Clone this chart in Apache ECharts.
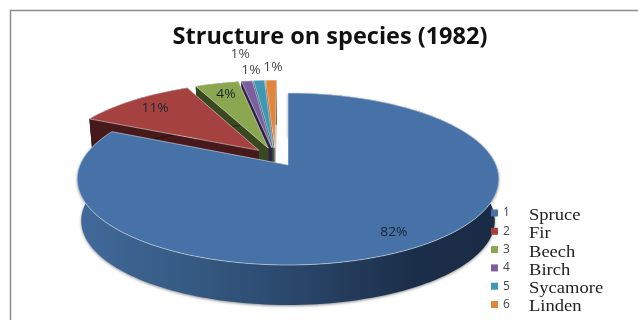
<!DOCTYPE html>
<html>
<head>
<meta charset="utf-8">
<style>html,body{margin:0;padding:0;background:#fff}#chart{width:638px;height:320px}</style>
<script src="https://cdn.jsdelivr.net/npm/echarts@6/dist/echarts.min.js"></script>
</head>
<body>
<div id="chart"></div>
<script>
// Share of each species, percent
const legendKeys = ['1', '2', '3', '4', '5', '6'];
const speciesNames = ['Spruce', 'Fir', 'Beech', 'Birch', 'Sycamore', 'Linden'];
const speciesShare = [82, 11, 4, 1, 1, 1];
const topColors = ['#4672a8', '#a5423f', '#8aa64e', '#7c5fa0', '#3f98b3', '#e0873b'];
const wallColors = ['#26405f', '#47191a', '#3a4820', '#2f2345', '#1f4c5a', '#8a5a30'];
// Percent label placement: distance in disc radii and a small turn in degrees
const labelRadii = [0.84, 0.81, 0.80, 1.49, 1.17, 1.215];
const labelTurns = [0, 0, 0, 0.8, -1.7, 0.7];

// Perspective disc: top plane and the plane of the pie's underside
const topPlane = { cx: 288, cy: 165, w: 208, h: 83.7 };
const basePlane = { cx: 288, cy: 207, w: 204, h: 82 };
const tilt = 0.163;
const explode = 0.116;

const total = speciesShare.reduce((a, b) => a + b, 0);
const spans = [];
speciesShare.reduce((start, v) => {
  const end = start + v / total * Math.PI * 2;
  spans.push([start, end]);
  return end;
}, 0);
const heading = a => [Math.sin(a), -Math.cos(a)];
const midAngle = i => (spans[i][0] + spans[i][1]) / 2;

// Every slice moves out along its own bisector; the largest stays as the reference
function offsetOf(i) {
  const d = heading(midAngle(i)), d0 = heading(midAngle(0));
  return [explode * (d[0] - d0[0]), explode * (d[1] - d0[1])];
}
function project(u, v, plane) {
  const w = 1 - tilt * v;
  return [plane.cx + plane.w * u / w, plane.cy + plane.h * v / w];
}
function rimPoints(i, plane) {
  const [a0, a1] = spans[i], off = offsetOf(i), pts = [];
  const n = Math.max(2, Math.ceil((a1 - a0) / 0.03));
  for (let k = 0; k <= n; k++) {
    const d = heading(a0 + (a1 - a0) * k / n);
    pts.push(project(d[0] + off[0], d[1] + off[1], plane));
  }
  return pts;
}
function cutFace(i, angle, plane0, plane1) {
  const off = offsetOf(i), d = heading(angle);
  return [
    project(off[0], off[1], plane0),
    project(d[0] + off[0], d[1] + off[1], plane0),
    project(d[0] + off[0], d[1] + off[1], plane1),
    project(off[0], off[1], plane1)
  ];
}

function renderSlice(i) {
  const top = rimPoints(i, topPlane), base = rimPoints(i, basePlane);
  const off = offsetOf(i);
  const apex = project(off[0], off[1], topPlane);
  const wallFill = i === 0
    ? new echarts.graphic.LinearGradient(0, 0, 1, 0, [
        { offset: 0, color: '#41699a' },
        { offset: 0.3, color: '#345880' },
        { offset: 0.55, color: '#284466' },
        { offset: 0.8, color: '#1b2e49' },
        { offset: 1, color: '#1a2b44' }
      ])
    : wallColors[i];
  const d = heading(midAngle(i) + labelTurns[i] * Math.PI / 180);
  const lp = project(d[0] * labelRadii[i] + off[0], d[1] * labelRadii[i] + off[1], topPlane);
  return {
    type: 'group',
    children: [
      { type: 'polygon', shape: { points: cutFace(i, spans[i][1], topPlane, basePlane) }, style: { fill: i === 5 ? '#b9b9b9' : wallColors[i] } },
      { type: 'polygon', shape: { points: cutFace(i, spans[i][0], topPlane, basePlane) }, style: { fill: i === 0 ? '#7f8c9c' : wallColors[i] } },
      {
        type: 'polygon',
        shape: { points: top.concat(base.slice().reverse()) },
        style: { fill: wallFill, shadowColor: 'rgba(0,0,0,0.45)', shadowBlur: i === 0 ? 3 : 0, shadowOffsetY: 1 }
      },
      {
        type: 'polygon',
        shape: { points: [apex].concat(top) },
        style: { fill: topColors[i], stroke: 'rgba(235,240,245,0.75)', lineWidth: 0.7 }
      },
      {
        type: 'text',
        x: lp[0], y: lp[1], scaleX: 1.15,
        style: {
          text: speciesShare[i] + '%',
          fill: i < 3 ? '#1d2530' : '#4a4a4a',
          font: '12px "Open Sans"',
          align: 'center', verticalAlign: 'middle'
        }
      }
    ]
  };
}

const nameRows = speciesNames.map((name, i) => ({
  type: 'text',
  x: 529,
  y: 216 + i * 18.2,
  scaleX: 1.16,
  style: { text: name, fill: '#222', font: '16px "Liberation Serif"', verticalAlign: 'middle' }
}));

const chart = echarts.init(document.getElementById('chart'), null, { renderer: 'canvas' });
chart.setOption({
  animation: false,
  backgroundColor: '#fff',
  title: {
    text: 'Structure on species (1982)',
    left: 325, top: 20, textAlign: 'center',
    textStyle: { fontFamily: 'Open Sans', fontWeight: 'bold', fontSize: 23.5, color: '#111' }
  },
  legend: {
    data: legendKeys, orient: 'vertical', left: 491, top: 207,
    itemWidth: 7, itemHeight: 7, itemGap: 6.3, padding: 0, z: 20,
    icon: 'rect', selectedMode: false,
    textStyle: { fontFamily: 'Open Sans', fontSize: 12, color: '#444', lineHeight: 11 }
  },
  graphic: [
    { type: 'rect', z: 0, shape: { x: 10.5, y: 10.5, width: 700, height: 400 }, style: { fill: 'none', stroke: '#8d8d8d', lineWidth: 1.5 } }
  ].concat(nameRows),
  // Far slices first, so the nearer ones paint over them
  series: legendKeys.map((key, i) => ({
    type: 'custom',
    name: key,
    coordinateSystem: 'none',
    z: 10 - i,
    itemStyle: { color: topColors[i] },
    data: [[speciesShare[i]]],
    renderItem: () => renderSlice(i)
  }))
});
</script>
</body>
</html>
